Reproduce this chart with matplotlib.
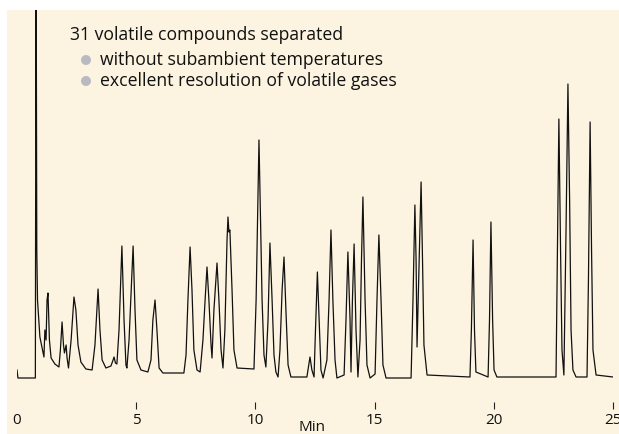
import numpy as np
import matplotlib.pyplot as plt
from matplotlib.patches import Rectangle, Ellipse

# Chromatogram trace (time in minutes, detector response)
time_min = [
    0.00, 0.04, 0.77, 0.80, 0.83, 0.86, 0.96, 1.09, 1.13, 1.17, 1.22, 1.26, 1.30, 1.36,
    1.43, 1.59, 1.76, 1.82, 1.89, 1.95, 1.99, 2.06, 2.10, 2.16, 2.27, 2.39, 2.47, 2.56,
    2.68, 2.89, 3.15, 3.27, 3.40, 3.48, 3.57, 3.73, 3.94, 4.03, 4.07, 4.13, 4.19, 4.28,
    4.40, 4.49, 4.57, 4.61, 4.70, 4.87, 4.95, 5.03, 5.20, 5.49, 5.62, 5.70, 5.79, 5.87,
    5.96, 6.12, 7.00, 7.09, 7.17, 7.26, 7.34, 7.42, 7.55, 7.68, 7.80, 7.89, 7.97, 8.05,
    8.14, 8.18, 8.26, 8.39, 8.47, 8.56, 8.64, 8.72, 8.81, 8.85, 8.89, 8.93, 9.02, 9.10,
    9.23, 9.94, 10.03, 10.11, 10.15, 10.19, 10.28, 10.36, 10.44, 10.53, 10.61, 10.70,
    10.78, 10.86, 10.95, 11.03, 11.12, 11.20, 11.28, 11.37, 11.49, 12.16, 12.29, 12.37,
    12.46, 12.52, 12.60, 12.69, 12.75, 12.84, 13.00, 13.09, 13.17, 13.25, 13.34, 13.42,
    13.72, 13.80, 13.88, 13.97, 14.01, 14.07, 14.14, 14.22, 14.30, 14.39, 14.45, 14.51,
    14.60, 14.68, 14.81, 15.02, 15.10, 15.18, 15.27, 15.35, 15.48, 16.53, 16.61, 16.69,
    16.74, 16.78, 16.86, 16.95, 17.01, 17.07, 17.20, 19.00, 19.06, 19.13, 19.19, 19.25,
    19.76, 19.82, 19.88, 19.95, 20.01, 20.13, 22.61, 22.67, 22.73, 22.80, 22.86, 22.94,
    23.03, 23.11, 23.18, 23.24, 23.32, 23.45, 23.91, 23.97, 24.04, 24.10, 24.16, 24.29,
    25.00,
]
response = [
    7, -1, -1, 450, 127, 77, 40, 25, 20, 47, 37, 77, 84, 37,
    19, 13, 10, 27, 55, 32, 24, 32, 19, 9, 37, 80, 67, 32,
    15, 8, 7, 32, 88, 47, 17, 9, 11, 17, 20, 14, 13, 47,
    131, 57, 12, 9, 37, 131, 67, 17, 7, 5, 17, 57, 77, 47,
    9, 4, 4, 22, 77, 130, 87, 27, 7, 5, 37, 77, 110, 77,
    32, 19, 67, 114, 77, 27, 9, 47, 137, 160, 145, 147, 87, 27,
    9, 8, 77, 187, 237, 187, 77, 22, 10, 57, 134, 77,
    22, 5, 0, 27, 87, 120, 67, 12, 0, 0, 20, 7,
    0, 47, 105, 47, 7, -1, 17, 77, 147, 77, 17, -1,
    2, 57, 125, 57, 5, 77, 133, 47, 0, 37, 117, 180,
    77, 12, -1, 3, 77, 142, 77, 12, -1, -1, 77, 172,
    117, 30, 107, 195, 117, 32, 2, 0, 47, 137, 47, 5,
    0, 57, 155, 57, 7, 0, 0, 127, 258, 127, 27, 2,
    147, 293, 177, 47, 7, 0, 0, 97, 255, 127, 27, 2,
    0,
]

tick_values = [0, 5, 10, 15, 20, 25]
title_text = "31 volatile compounds separated"
bullet_texts = ["without subambient temperatures",
                "excellent resolution of volatile gases"]

W, H = 619, 434
plt.rcParams['font.family'] = ['Open Sans', 'DejaVu Sans']
fig = plt.figure(figsize=(W / 100, H / 100), dpi=100)
fig.patch.set_facecolor('white')

# beige panel behind everything
fig.patches.append(Rectangle((7 / W, 0), 1 - 7 / W, 1 - 10 / H, transform=fig.transFigure,
                             facecolor='#FCF4E0', edgecolor='none', zorder=-10))

ax = fig.add_axes([17 / W, 32 / H, 596 / W, 392 / H])
ax.set_zorder(5)
ax.patch.set_alpha(0)
ax.plot(time_min, response, color='#111111', linewidth=0.9)
ax.set_xlim(0, 25)
ax.set_ylim(-25, 367)
for s in ax.spines.values():
    s.set_visible(False)
ax.set_yticks([])
ax.set_xticks(tick_values)
ax.set_xticklabels([str(v) for v in tick_values])
ax.tick_params(axis='x', direction='out', length=5, width=0.8, color='#222222',
               pad=3, labelsize=11, labelcolor='#111111')
ax.xaxis.get_major_ticks()[0].tick1line.set_visible(False)

fig.text(312 / W, 0.008, "Min", ha='center', va='baseline', fontsize=11, color='#111111')

# annotation block
fig.text(70 / W, 1 - 40 / H, title_text, ha='left', va='baseline', fontsize=12.7, color='#111111')
for i, txt in enumerate(bullet_texts):
    yb = 65 + 21 * i
    fig.text(100 / W, 1 - yb / H, txt, ha='left', va='baseline', fontsize=12.7, color='#111111')
    fig.patches.append(Ellipse((86 / W, 1 - (yb - 5) / H), 10 / W, 10 / H,
                               transform=fig.transFigure, facecolor='#B9BAC1',
                               edgecolor='none', zorder=2))

fig.savefig('out.png', dpi=100)
